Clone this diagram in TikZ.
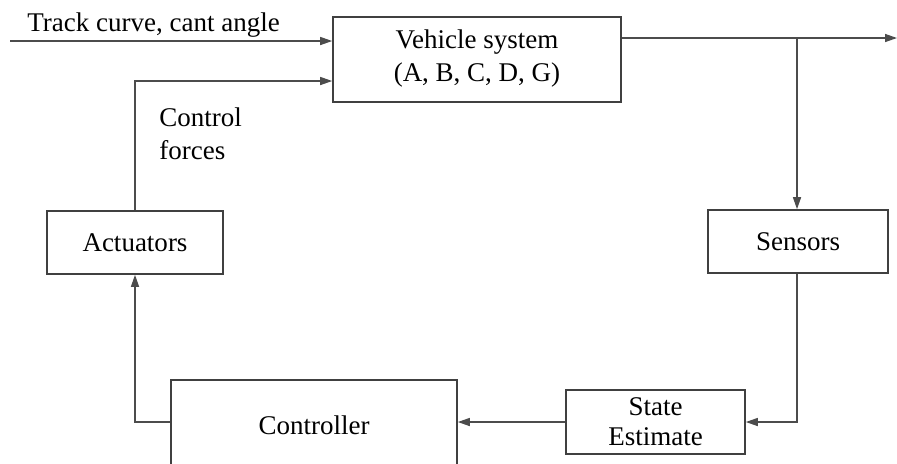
\documentclass[tikz,border=0pt]{standalone}
\usepackage{fontspec}
\setmainfont{Liberation Serif}
\usetikzlibrary{arrows.meta}

\tikzset{
  blockbox/.style={draw=black!75, line width=0.8pt, inner sep=0pt, align=center},
  flow/.style={draw=black!70, line width=0.7pt, -{Triangle[length=6pt,width=4pt]}},
  flowline/.style={draw=black!70, line width=0.7pt}
}

\begin{document}
\begin{tikzpicture}[x=0.5pt,y=-0.5pt,font=\fontsize{13.5}{16.5}\selectfont]
		\useasboundingbox (0,0) rectangle (897,463);

		\node[blockbox, minimum width=144pt, minimum height=42.5pt, text depth=4pt] (vehicle) at (477,59.5) {Vehicle system\\(A, B, C, D, G)};
		\node[blockbox, minimum width=90pt, minimum height=31.5pt] (sensors) at (798,241.5) {Sensors};
		\node[blockbox, minimum width=88pt, minimum height=31.5pt] (actuators) at (135,242.5) {Actuators};
		\node[blockbox, minimum width=89.5pt, minimum height=32pt, font=\fontsize{13.5}{15}\selectfont] (estimate) at (655.5,422) {State\\Estimate};
		\node[blockbox, minimum width=143pt, minimum height=45pt] (controller) at (314,425) {Controller};

		\coordinate (trackin) at (10,41);
		\coordinate (outend) at (897,38);
		\coordinate (branch) at (797,38);

		\draw[flow] (trackin) -- (trackin -| vehicle.west);
		\node[anchor=base west, inner sep=0pt] (tracklabel) at (27,31) {Track curve, cant angle};

		\draw[flowline] (vehicle.east |- outend) -- (branch);
		\draw[flow] (branch) -- (outend);
		\draw[flow] (branch) -- (branch |- sensors.north);

		\draw[flow] (sensors.south -| branch) |- (estimate.east);
		\draw[flow] (estimate.west) -- (estimate.west -| controller.east);
		\draw[flow] (controller.west |- estimate.west) -| (actuators.south);
		\draw[flow] (actuators.north) |- (vehicle.west |- 0,81);

		\node[anchor=west, align=left, inner sep=0pt] (forcelabel) at (159,134) {Control\\forces};
	\end{tikzpicture}
\end{document}
